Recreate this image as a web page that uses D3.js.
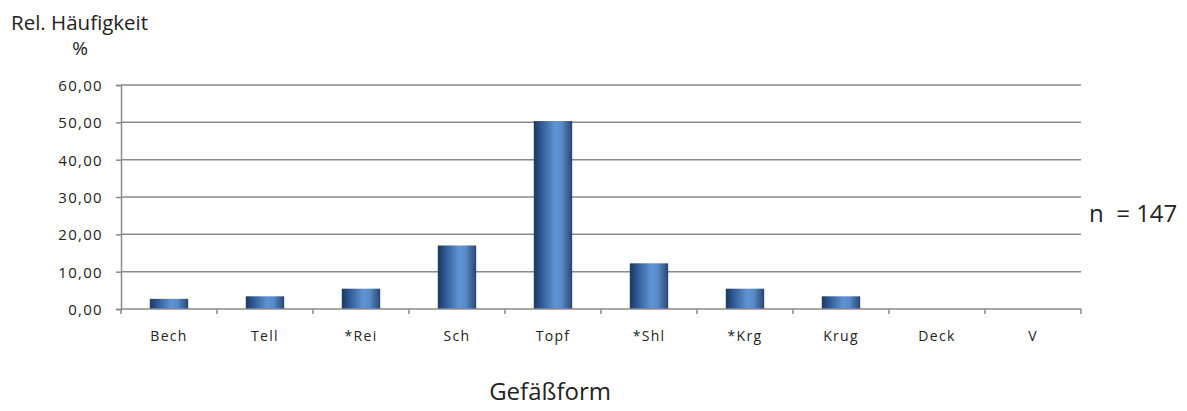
<!DOCTYPE html>
<html><head><meta charset="utf-8">
<script src="https://cdn.jsdelivr.net/npm/d3@7"></script>
<style>body{margin:0;background:#fff}svg{display:block}</style>
</head><body>
<svg id="c" width="1187" height="411"></svg>
<script>
const categories = ["Bech","Tell","*Rei","Sch","Topf","*Shl","*Krg","Krug","Deck","V"];
const values = [2.72,3.40,5.44,17.01,50.34,12.24,5.44,3.40,0,0];
const yTicks = [0,10,20,30,40,50,60];
const yTickLabels = ["0,00","10,00","20,00","30,00","40,00","50,00","60,00"];
const yTitle = "Rel. Häufigkeit";
const yUnit = "%";
const xTitle = "Gefäßform";
const nLabel = "n  = 147";

const svg = d3.select("#c");
const m = {l:121, r:1081, t:85, b:309};
const font = "'Open Sans', sans-serif";

const x = d3.scaleBand().domain(categories).range([m.l, m.r]).paddingInner(0.6).paddingOuter(0.3);
const xb = d3.scaleBand().domain(categories).range([m.l, m.r]);
const y = d3.scaleLinear().domain([0,60]).range([m.b, m.t]);

const defs = svg.append("defs");
const g = defs.append("linearGradient").attr("id","bar").attr("x1","0").attr("x2","1").attr("y1","0").attr("y2","0");
[[0,"#1d3760"],[0.18,"#2f5690"],[0.55,"#5e93d3"],[0.72,"#5a8ccb"],[0.92,"#34598f"],[1,"#27466f"]].forEach(s=>
  g.append("stop").attr("offset",s[0]).attr("stop-color",s[1]));

// gridlines
svg.append("g").selectAll("line").data(yTicks.filter(d=>d>0)).join("line")
  .attr("x1",m.l).attr("x2",m.r).attr("y1",d=>y(d)).attr("y2",d=>y(d))
  .attr("stroke","#8a8a8a").attr("stroke-width",1.5);

// y axis
const yAxis = d3.axisLeft(y).tickValues(yTicks).tickSize(5).tickFormat((d,i)=>yTickLabels[i]);
const ya = svg.append("g").attr("transform",`translate(${m.l},0)`).call(yAxis);
ya.select(".domain").attr("stroke","#8a8a8a").attr("stroke-width",1.5);
ya.selectAll(".tick line").attr("stroke","#8a8a8a").attr("stroke-width",1.5);
ya.selectAll("text").attr("x",-18).attr("dy","0.36em").attr("font-family",font).attr("font-size",15)
  .attr("letter-spacing",1.3).attr("fill","#222");

// bars
svg.append("g").selectAll("rect").data(values).join("rect")
  .attr("x",(d,i)=>x(categories[i])).attr("width",x.bandwidth())
  .attr("y",d=>y(d)).attr("height",d=>y(0)-y(d))
  .attr("fill","url(#bar)");

// x axis
const xa = svg.append("g").attr("transform",`translate(0,${m.b})`);
xa.append("line").attr("x1",m.l).attr("x2",m.r).attr("stroke","#8a8a8a").attr("stroke-width",1.5);
const bounds = categories.map(c=>xb(c)).concat([m.r]);
xa.selectAll("line.t").data(bounds).join("line").attr("class","t")
  .attr("x1",d=>d).attr("x2",d=>d).attr("y1",0).attr("y2",5)
  .attr("stroke","#8a8a8a").attr("stroke-width",1.5);
xa.selectAll("text").data(categories).join("text")
  .attr("x",d=>xb(d)+xb.bandwidth()/2).attr("y",32)
  .attr("text-anchor","middle").attr("font-family",font).attr("font-size",14)
  .attr("letter-spacing",1.3).attr("fill","#222").text(d=>d);

// titles
svg.append("text").attr("x",11).attr("y",30).attr("font-family",font).attr("font-size",20.5).attr("fill","#222").text(yTitle);
svg.append("text").attr("x",80).attr("y",55).attr("font-family",font).attr("font-size",19).attr("fill","#222").attr("text-anchor","middle").text(yUnit);
svg.append("text").attr("x",611).attr("y",400).attr("font-family",font).attr("font-size",24).attr("fill","#222").attr("text-anchor","end").text(xTitle);
svg.append("text").attr("x",1089).attr("y",222).attr("font-family",font).attr("font-size",24).attr("fill","#222").style("white-space","pre").text(nLabel);
</script>
</body></html>
